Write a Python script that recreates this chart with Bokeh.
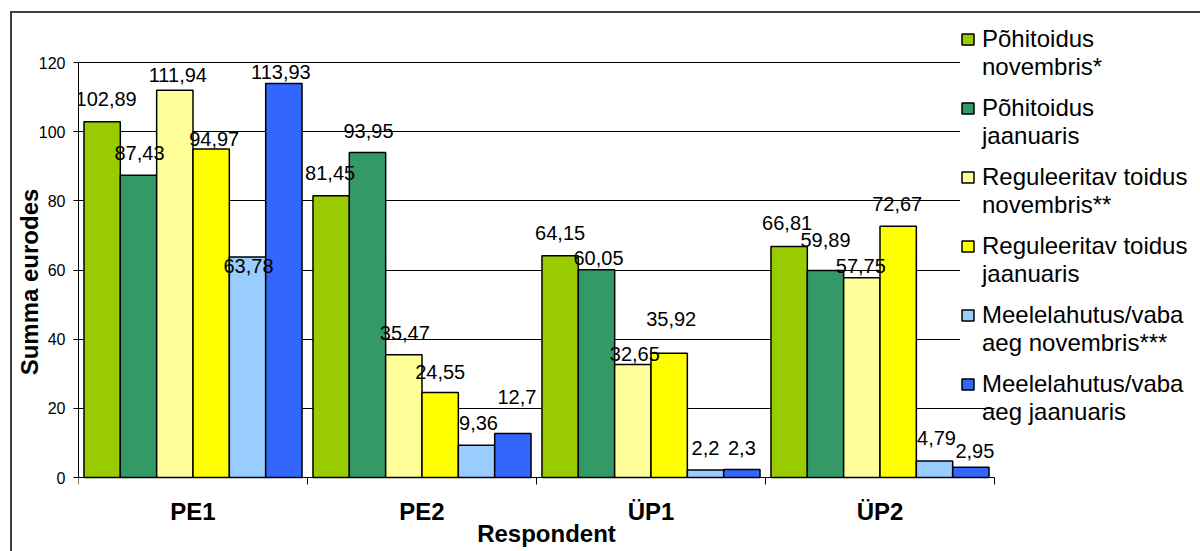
from bokeh.plotting import figure
from bokeh.models import (FixedTicker, ColumnDataSource, Legend, LegendItem,
                          Range1d, Label)
from bokeh.core.properties import value
from bokeh.embed import file_html
from bokeh.resources import INLINE

categories = ["PE1", "PE2", "ÜP1", "ÜP2"]
series_line1 = ["Põhitoidus", "Põhitoidus", "Reguleeritav toidus",
                "Reguleeritav toidus", "Meelelahutus/vaba", "Meelelahutus/vaba"]
series_line2 = ["novembris*", "jaanuaris", "novembris**", "jaanuaris",
                "aeg novembris***", "aeg jaanuaris"]
pohitoidus_nov = [102.89, 81.45, 64.15, 66.81]
pohitoidus_jan = [87.43, 93.95, 60.05, 59.89]
reguleeritav_nov = [111.94, 35.47, 32.65, 57.75]
reguleeritav_jan = [94.97, 24.55, 35.92, 72.67]
meelelahutus_nov = [63.78, 9.36, 2.2, 4.79]
meelelahutus_jan = [113.93, 12.7, 2.3, 2.95]
y_ticks = [0, 20, 40, 60, 80, 100, 120]

series = [pohitoidus_nov, pohitoidus_jan, reguleeritav_nov,
          reguleeritav_jan, meelelahutus_nov, meelelahutus_jan]
colors = ["#99CC00", "#339966", "#FFFF99", "#FFFF00", "#99CCFF", "#3366FF"]

# ---- layout / styling ----
bar_w = 0.1587
offsets = [(-2.5 + j) * bar_w for j in range(6)]
label_dy = [[-23, -23, -23, -23], [-22, -22, -12, -30], [-15, -22, -11, -12],
            [-10, -21, -34, -22], [9, -22, -22, -23], [-11, -37, -22, -16]]
label_dx = [[4, -1, 0, -2], [1, 1, 2, 0], [3, 1, 2, -1],
            [3, 0, 2, -1], [1, 2, 0, 2], [-3, 4, 0, 4]]

FONT = "Liberation Sans"
PX_PER_CAT = 229.0           # screen width of one category
PX_PER_UNIT = 415.0 / 120.0  # screen pixels per euro
FRAME_W = 1118
FRAME_H = 537
BELOW_ZERO_PX = 73           # frame extends below the value axis

y_start = -BELOW_ZERO_PX / PX_PER_UNIT
y_end = (FRAME_H - BELOW_ZERO_PX) / PX_PER_UNIT

p = figure(frame_width=FRAME_W, frame_height=FRAME_H,
           x_range=Range1d(0, FRAME_W / PX_PER_CAT),
           y_range=Range1d(y_start, y_end),
           output_backend="svg", toolbar_location=None,
           min_border_left=65, min_border_right=5,
           min_border_top=0, min_border_bottom=1,
           background_fill_color="white", border_fill_color="white",
           outline_line_color=None)
p.styles = {"margin-left": "10px", "margin-top": "11px",
            "border-left": "2px solid #404040",
            "border-top": "2px solid #404040"}

renderers = []
sources = []
for j, vals in enumerate(series):
    xs = [i + 0.5 + offsets[j] for i in range(len(categories))]
    src = ColumnDataSource(dict(
        x=xs, top=vals,
        label=[str(v).replace(".", ",") for v in vals],
        dx=label_dx[j], dy=label_dy[j]))
    sources.append(src)
    r = p.vbar(x="x", top="top", bottom=0, width=bar_w, source=src,
               fill_color=colors[j], line_color="black", line_width=1.5)
    renderers.append(r)

# value labels drawn after all bars so they sit on top
for src in sources:
    p.text(x="x", y="top", text="label", x_offset="dx", y_offset="dy",
           source=src, text_align="center", text_baseline="middle",
           text_font=value(FONT), text_font_size="20px", text_color="black")

# x axis at value 0: labels at category centres, ticks at boundaries
xa = p.xaxis[0]
xa.fixed_location = 0
xa.bounds = (0, len(categories))
xa.ticker = FixedTicker(ticks=[i + 0.5 for i in range(len(categories))],
                        minor_ticks=list(range(len(categories) + 1)))
xa.major_label_overrides = {i + 0.5: c for i, c in enumerate(categories)}
xa.major_tick_out = 0
xa.major_tick_in = 0
xa.minor_tick_out = 7
xa.minor_tick_in = 0
xa.major_label_standoff = 13
xa.major_label_text_font = FONT
xa.major_label_text_font_style = "bold"
xa.major_label_text_font_size = "24px"
xa.major_label_text_color = "black"
xa.axis_line_color = "black"
xa.minor_tick_line_color = "black"
p.xgrid.visible = False

# x axis title, anchored under the middle of the category axis
p.add_layout(Label(x=len(categories) / 2, y=0, x_offset=10, y_offset=-56,
                   text="Respondent", text_align="center",
                   text_baseline="middle", text_font=FONT,
                   text_font_style="bold", text_font_size="24px",
                   text_color="black"))

ya = p.yaxis[0]
ya.bounds = (0, 120)
ya.ticker = FixedTicker(ticks=y_ticks, minor_ticks=[])
ya.major_tick_out = 5
ya.major_tick_in = 0
ya.minor_tick_out = 0
ya.minor_tick_in = 0
ya.major_label_standoff = 8
ya.major_label_text_font = FONT
ya.major_label_text_font_size = "16px"
ya.major_label_text_color = "black"
ya.axis_label = "Summa eurodes"
ya.axis_label_text_font = FONT
ya.axis_label_text_font_style = "bold"
ya.axis_label_text_font_size = "24px"
ya.axis_label_text_color = "black"
ya.axis_label_standoff = -7
ya.axis_line_color = "black"
p.ygrid.ticker = FixedTicker(ticks=y_ticks[1:], minor_ticks=[])
p.ygrid.cross_bounds = (0, len(categories))
p.ygrid.grid_line_color = "black"
p.ygrid.grid_line_width = 1

# legend: first text line with the colour square, second line in a
# transparent companion legend shifted one text line down
dummy = p.vbar(x=[], top=[], width=0.1, fill_alpha=0, line_alpha=0)


def make_legend(items, loc, bg_alpha):
    lg = Legend(items=items, location=loc)
    lg.label_text_font = FONT
    lg.label_text_font_size = "24px"
    lg.label_text_color = "black"
    lg.glyph_width = 15
    lg.glyph_height = 14
    lg.label_height = 28
    lg.label_standoff = 7
    lg.spacing = 41
    lg.padding = 11
    lg.margin = 0
    lg.border_line_color = None
    lg.background_fill_color = "white"
    lg.background_fill_alpha = bg_alpha
    return lg


legend_a = make_legend([LegendItem(label=n, renderers=[r])
                        for n, r in zip(series_line1, renderers)],
                       (882, 152), 1.0)
legend_b = make_legend([LegendItem(label=n, renderers=[dummy])
                        for n in series_line2],
                       (882, 124), 0.0)
p.add_layout(legend_a)
p.add_layout(legend_b)

open("out.html", "w").write(file_html(p, INLINE))
